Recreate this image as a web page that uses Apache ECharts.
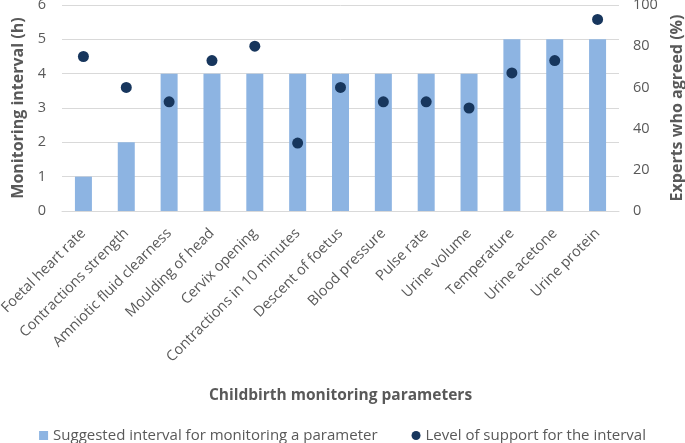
<!DOCTYPE html>
<html><head><meta charset="utf-8">
<script src="https://cdn.jsdelivr.net/npm/echarts@6/dist/echarts.min.js"></script>
<style>html,body{margin:0;padding:0;background:#fff}#c{width:685px;height:443px}</style>
</head><body><div id="c"></div>
<script>
const categories = ["Foetal heart rate","Contractions strength","Amniotic fluid clearness","Moulding of head","Cervix opening","Contractions in 10 minutes","Descent of foetus","Blood pressure","Pulse rate","Urine volume","Temperature","Urine acetone","Urine protein"];
const intervalHours = [1,2,4,4,4,4,4,4,4,4,5,5,5];
const supportPercent = [75,60,53,73,80,33,60,53,53,50,67,73,93];
const leftTicks = [0,1,2,3,4,5,6];
const rightTicks = [0,20,40,60,80,100];

const font = "Open Sans";
const grey = "#595959";
const chart = echarts.init(document.getElementById('c'), null, {renderer:'canvas'});
chart.setOption({
  animation:false,
  textStyle:{fontFamily:font},
  grid:{left:62, right:66, top:5, bottom:232, containLabel:false, outerBoundsMode:'none'},
  legend:{
    bottom:-5, left:'center', itemGap:34, itemWidth:9, itemHeight:9,
    textStyle:{color:grey, fontSize:15, fontFamily:font},
    data:[{name:'Suggested interval for monitoring a parameter', icon:'rect'},{name:'Level of support for the interval', icon:'circle'}]
  },
  xAxis:{
    type:'category', data:categories,
    name:'Childbirth monitoring parameters', nameLocation:'middle', nameGap:177,
    nameTextStyle:{color:grey, fontWeight:'bold', fontSize:15.5, fontFamily:font},
    axisLine:{lineStyle:{color:'#D9D9D9'}}, axisTick:{show:false},
    axisLabel:{rotate:45, color:grey, fontSize:14.5, interval:0, margin:20}
  },
  yAxis:[{
    type:'value', min:0, max:6, interval:1,
    name:'Monitoring interval (h)', nameLocation:'middle', nameGap:27, nameRotate:90,
    nameTextStyle:{color:grey, fontWeight:'bold', fontSize:16, fontFamily:font},
    axisLabel:{color:grey, fontSize:14.5, margin:16, formatter:v=>leftTicks.includes(v)?String(v):''},
    splitLine:{lineStyle:{color:'#D9D9D9'}}, axisLine:{show:false}, axisTick:{show:false}
  },{
    type:'value', min:0, max:100, interval:20,
    name:'Experts who agreed (%)', nameLocation:'middle', nameGap:50, nameRotate:90,
    nameTextStyle:{color:grey, fontWeight:'bold', fontSize:16, fontFamily:font},
    axisLabel:{color:grey, fontSize:14.5, margin:14, formatter:v=>rightTicks.includes(v)?String(v):''},
    splitLine:{show:false}, axisLine:{show:false}, axisTick:{show:false}
  }],
  series:[{
    name:'Suggested interval for monitoring a parameter', type:'bar', data:intervalHours,
    yAxisIndex:0, barWidth:17, itemStyle:{color:'#8DB4E2'}
  },{
    name:'Level of support for the interval', type:'scatter', data:supportPercent,
    yAxisIndex:1, symbol:'circle', symbolSize:11, itemStyle:{color:'#17365D', opacity:1}
  }]
});
</script></body></html>
